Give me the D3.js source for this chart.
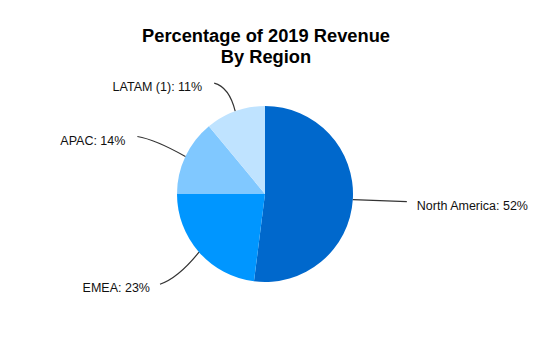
<!DOCTYPE html>
<html><head><meta charset="utf-8">
<script src="https://cdn.jsdelivr.net/npm/d3@7"></script>
<style>body{margin:0;background:#fff}svg{display:block}</style>
</head><body>
<svg id="c" width="554" height="344"></svg>
<script>
const regions = ["North America", "EMEA", "APAC", "LATAM (1)"];
const shares = [52, 23, 14, 11];
const colors = ["#0068CC", "#0096FF", "#80C8FF", "#BFE3FF"];
const titleLines = ["Percentage of 2019 Revenue", "By Region"];

const svg = d3.select("#c");
const W = 554, H = 344;
const cx = 265, cy = 194, R = 88;
const font = "Liberation Sans, Arial, sans-serif";

svg.append("rect").attr("width", W).attr("height", H).attr("fill", "#fff");

svg.append("g").selectAll("text").data(titleLines).join("text")
  .attr("x", 266).attr("y", (d, i) => 42 + i * 21)
  .attr("text-anchor", "middle")
  .attr("font-family", font).attr("font-weight", "bold").attr("font-size", 18.3)
  .attr("fill", "#000").text(d => d);

const data = regions.map((r, i) => ({region: r, value: shares[i], color: colors[i]}));
const pie = d3.pie().sort(null).value(d => d.value);
const arcs = pie(data);
const arc = d3.arc().innerRadius(0).outerRadius(R);

const g = svg.append("g").attr("transform", `translate(${cx},${cy})`);
g.selectAll("path").data(arcs).join("path")
  .attr("d", arc).attr("fill", d => d.data.color);

// label layout (relative offsets from anchor on pie edge)
const layout = [
  {end: [54, 2], ctrl: null, anchor: "start", tx: 10, ty: 4},
  {end: [-39, 32], ctrl: [-21, 26], anchor: "end", tx: -10, ty: 4},
  {end: [-48, -20], ctrl: [-30, -17], anchor: "end", tx: -12, ty: 4},
  {end: [-21, -28], ctrl: [-6, -24], anchor: "end", tx: -12, ty: 3},
];

const lg = svg.append("g");
arcs.forEach((a, i) => {
  const mid = (a.startAngle + a.endAngle) / 2;
  const sx = cx + R * Math.sin(mid), sy = cy - R * Math.cos(mid);
  const L = layout[i];
  const ex = sx + L.end[0], ey = sy + L.end[1];
  const p = d3.path();
  p.moveTo(sx, sy);
  if (L.ctrl) p.quadraticCurveTo(sx + L.ctrl[0], sy + L.ctrl[1], ex, ey);
  else p.lineTo(ex, ey);
  lg.append("path").attr("d", p.toString()).attr("fill", "none")
    .attr("stroke", "#333").attr("stroke-width", 1.2);
  lg.append("text").attr("x", ex + L.tx).attr("y", ey + L.ty + 4.3)
    .attr("text-anchor", L.anchor)
    .attr("font-family", font).attr("font-size", 12.5).attr("fill", "#111")
    .text(`${a.data.region}: ${a.data.value}%`);
});
</script>
</body></html>
